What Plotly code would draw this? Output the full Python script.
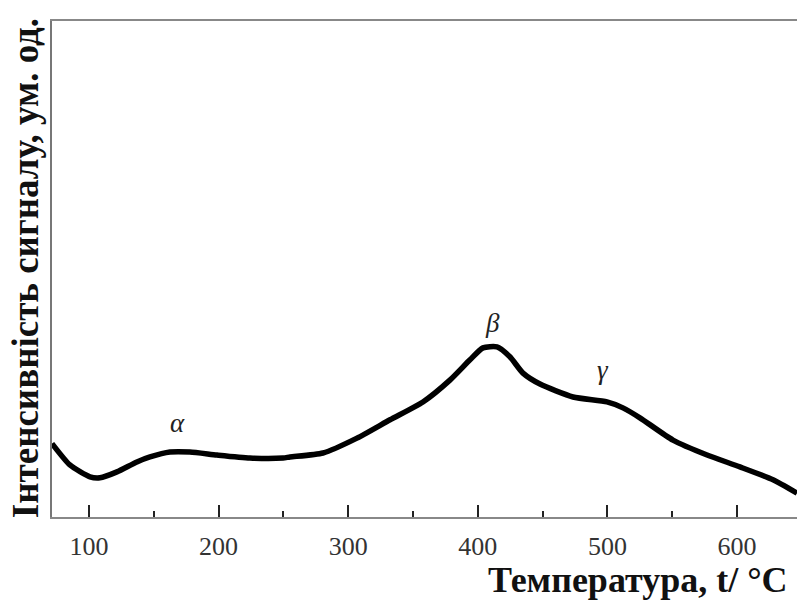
import plotly.graph_objects as go

# Temperature (°C) and signal intensity (arb. units, axis bottom = 0, top = 1)
temperature = [71.5, 85.3, 100.8, 108.5, 121.6, 137.0, 147.1, 162.5, 177.9, 198.8,
               224.2, 249.7, 255.1, 280.6, 306.8, 332.3, 357.7, 378.5, 394.0, 404.0,
               414.8, 424.8, 434.9, 448.0, 473.5, 499.7, 512.0, 525.1, 550.6, 576.9,
               602.3, 627.8, 646.3]
intensity = [0.148, 0.105, 0.081, 0.079, 0.091, 0.111, 0.121, 0.131, 0.131, 0.125,
             0.119, 0.119, 0.121, 0.129, 0.159, 0.196, 0.232, 0.276, 0.317, 0.341,
             0.343, 0.323, 0.290, 0.268, 0.242, 0.232, 0.220, 0.200, 0.155, 0.125,
             0.101, 0.075, 0.048]

peak_labels = ["α", "β", "γ"]
peak_x = [168.7, 411.0, 496.6]
peak_y = [0.189, 0.391, 0.296]

tick_vals = [100, 200, 300, 400, 500, 600]

FONT = "Liberation Serif"

fig = go.Figure()
fig.add_trace(go.Scatter(x=temperature, y=intensity, mode="lines",
                         line=dict(color="black", width=5.5, shape="spline", smoothing=0.6),
                         hoverinfo="skip", showlegend=False))

for lab, xx, yy in zip(peak_labels, peak_x, peak_y):
    fig.add_annotation(x=xx, y=yy, text=f"<i>{lab}</i>", showarrow=False,
                       font=dict(family=FONT, size=27, color="#222"),
                       xanchor="center", yanchor="middle")

fig.add_annotation(x=1, xref="paper", xanchor="right", xshift=-7,
                   y=-0.127, yref="paper", yanchor="middle",
                   text="<b>Температура, t/ °C</b>", showarrow=False,
                   font=dict(family=FONT, size=36, color="#111"))

fig.add_annotation(x=-0.036, xref="paper", xanchor="center",
                   y=0.502, yref="paper", yanchor="middle", textangle=-90,
                   text="<b>Інтенсивність сигналу, ум. од.</b>", showarrow=False,
                   font=dict(family=FONT, size=37, color="#111"))

fig.update_layout(
    width=797, height=603,
    margin=dict(l=52, r=0, t=21, b=86),
    paper_bgcolor="white", plot_bgcolor="white",
    font=dict(family=FONT, color="#333"),
    xaxis=dict(range=[71.5, 646.3], tickvals=tick_vals, automargin=False,
               ticks="inside", ticklen=12, tickwidth=2, tickcolor="#222",
               showline=True, linecolor="#888", linewidth=2, mirror=True,
               showgrid=False, zeroline=False, ticklabelstandoff=5,
               tickfont=dict(family=FONT, size=26, color="#333"),
               minor=dict(ticks="inside", ticklen=6, tickwidth=2, tickcolor="#222",
                          dtick=50, tick0=50, showgrid=False)),
    yaxis=dict(range=[0, 1], showticklabels=False, ticks="", automargin=False,
               showline=True, linecolor="#777", linewidth=2,
               showgrid=False, zeroline=False),
)

fig.write_html("out.html", config={"displayModeBar": False},
               post_script="document.body.style.margin='0';document.body.style.padding='0';")
